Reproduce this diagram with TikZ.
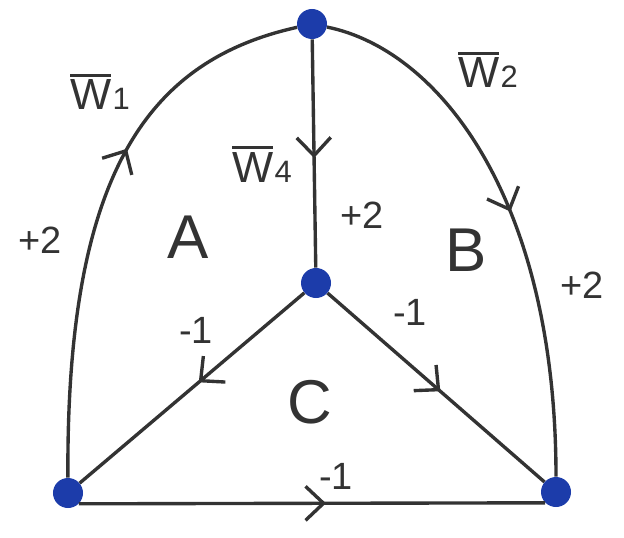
\documentclass[tikz,border=0pt]{standalone}
\usepackage{fontspec}
\setmainfont{Liberation Sans}
\usepackage{tikz}
\usetikzlibrary{arrows.meta,decorations.markings}
\definecolor{dotblue}{HTML}{1C3CAA}
\definecolor{penink}{HTML}{333333}
% barred W with index
\newcommand{\barw}[1]{\leavevmode\vbox{\hrule height 2.4pt\kern 1.8pt\hbox{W}}\kern1pt{\fontsize{22}{24}\selectfont #1}}

\begin{document}
\begin{tikzpicture}[x=0.025cm,y=-0.025cm,
  vtx/.style={circle,fill=dotblue,inner sep=0pt,minimum size=0.75cm},
  edge/.style={draw=penink,line width=2.4pt},
  mid/.style={postaction={decorate},decoration={markings,
    mark=at position #1 with {\arrow{Straight Barb[length=4.5mm,width=8.5mm,line width=2.4pt]}}}},
  wt/.style={font=\fontsize{27}{29}\selectfont,text=penink},
  face/.style={font=\fontsize{44}{46}\selectfont,text=penink},
  wl/.style={font=\fontsize{31}{33}\selectfont,text=penink,anchor=base}]

\useasboundingbox (0,0) rectangle (624,538);

\node[vtx] (T) at (312,24)  {};
\node[vtx] (M) at (316,283) {};
\node[vtx] (L) at (68,493)  {};
\node[vtx] (R) at (556,492) {};

% outer arcs
\draw[edge,mid=0.61] (L) .. controls (66,170) and (150,60) .. (T);
\draw[edge,mid=0.5] (T) .. controls (440,50) and (556,200) .. (R);
% spokes
\draw[edge,mid=0.52] (T) -- (M);
\draw[edge,mid=0.47] (M) -- (L);
\draw[edge,mid=0.52] (M) -- (R);
\draw[edge,mid=0.53] (L.-45) -- (R.225);

% labels
\node[wl] (w1) at (100,110) {\barw{1}};
\node[wl] (w2) at (488,88) {\barw{2}};
\node[wl] (w4) at (262,182) {\barw{4}};
\node[wt] (p1) at (40,240)  {+2};
\node[wt] (p2) at (362,215) {+2};
\node[wt] (p3) at (582,285) {+2};
\node[face] (fa) at (188,237) {A};
\node[face] (fb) at (466,250) {B};
\node[face] (fc) at (310,402) {C};
\node[wt] (m1) at (196,330) {-1};
\node[wt] (m2) at (410,312) {-1};
\node[wt] (m3) at (336,476) {-1};
\end{tikzpicture}
\end{document}
